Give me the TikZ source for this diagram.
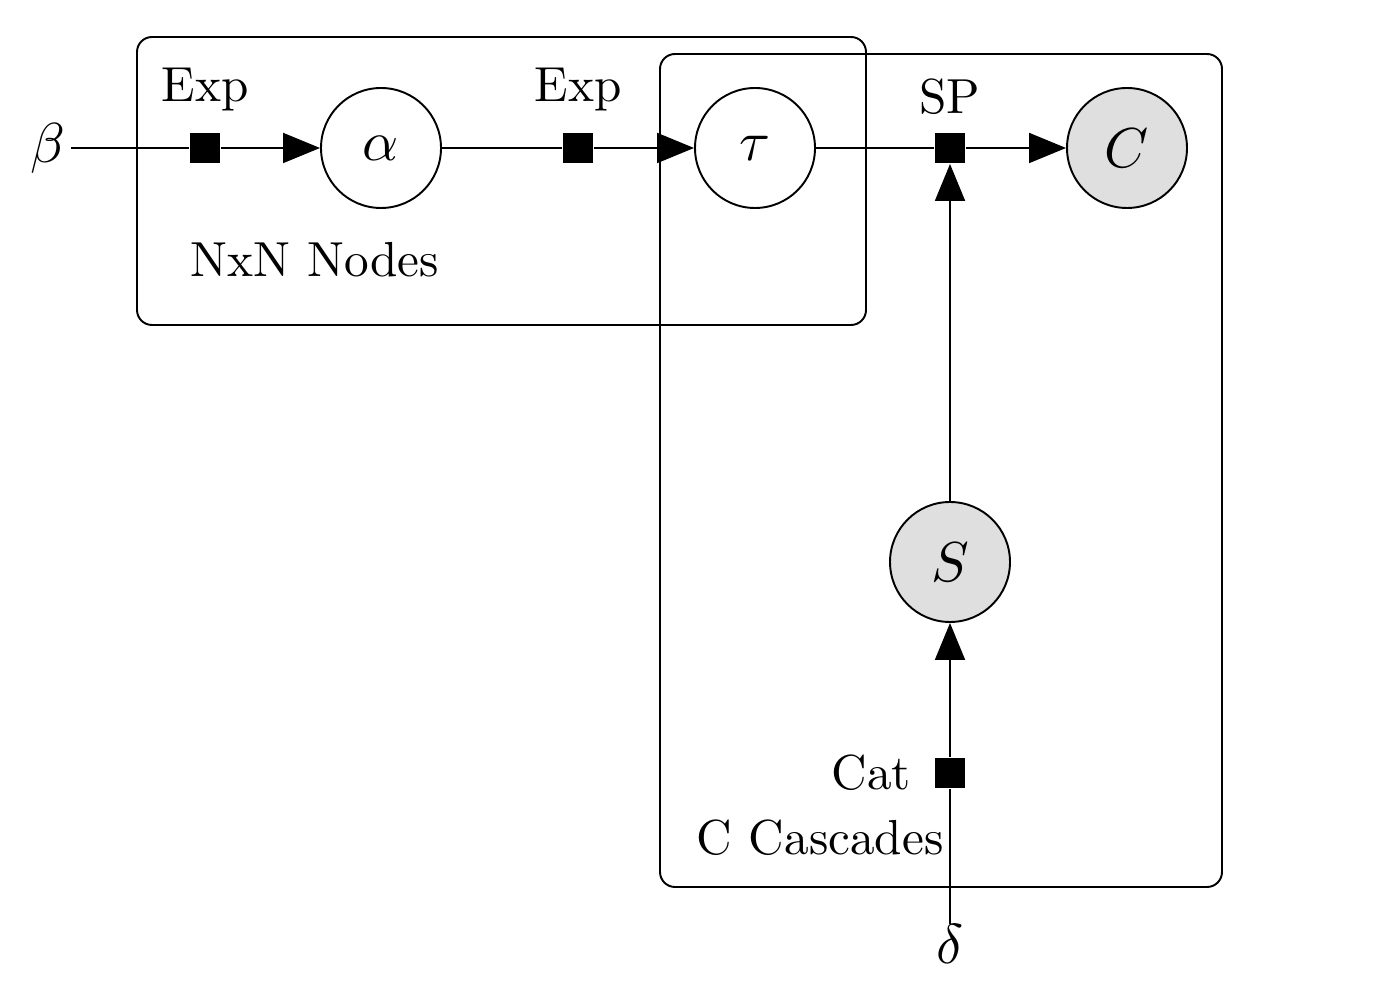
\documentclass[tikz,border=0pt]{standalone}
\usepackage{amsmath}
\usepackage{graphicx}
\usepackage{tikz}
\usetikzlibrary{arrows.meta}

\newcommand{\lbl}[1]{\scalebox{2.8}{#1}}
\newcommand{\mlbl}[1]{\scalebox{3.2}{$#1$}}

\begin{document}
\begin{tikzpicture}[line width=1.1pt,
    latent/.style={circle, draw, minimum size=2.4cm, inner sep=0pt},
    obs/.style={latent, fill=gray!25},
    factor/.style={rectangle, fill=black, minimum size=0.6cm, inner sep=0pt},
    plate/.style={draw, rounded corners=0.3cm},
    tag/.style={inner sep=0pt},
    edge/.style={-{Triangle[length=0.74cm, width=0.6cm]}}]
  \useasboundingbox (0,0) rectangle (28,20);
  % plates
  \draw[plate] (2.74,13.5) rectangle (17.32,19.26);
  \draw[plate] (13.2,2.26) rectangle (24.44,18.92);
  \node[tag, anchor=west] (nodesLbl) at (3.8,14.8) {\lbl{NxN Nodes}};
  \node[tag, anchor=west] (cascLbl) at (13.92,3.24) {\lbl{C Cascades}};
  % variables
  \node[tag, inner sep=0.1cm] (beta) at (0.96,17.04) {\mlbl{\beta}};
  \node[latent] (alpha) at (7.62,17.04) {\mlbl{\alpha}};
  \node[latent] (tau) at (15.1,17.04) {\mlbl{\tau}};
  \node[obs] (C) at (22.54,17.04) {\mlbl{C}};
  \node[obs] (S) at (19.0,8.76) {\mlbl{S}};
  \node[tag] (delta) at (19.0,1.12) {\mlbl{\delta}};
  % factors
  \node[factor] (fAlpha) at (4.1,17.04) {};
  \node[factor] (fTau) at (11.56,17.04) {};
  \node[factor] (fC) at (19.0,17.04) {};
  \node[factor] (fS) at (19.0,4.54) {};
  \node[tag] (fAlphaLbl) at (4.1,18.2) {\lbl{Exp}};
  \node[tag] (fTauLbl) at (11.56,18.2) {\lbl{Exp}};
  \node[tag] (fCLbl) at (19.0,18.06) {\lbl{SP}};
  \node[tag, anchor=east] (fSLbl) at (18.24,4.54) {\lbl{Cat}};
  % edges
  \draw (beta) -- (fAlpha);
  \draw[edge] (fAlpha) -- (alpha);
  \draw (alpha) -- (fTau);
  \draw[edge] (fTau) -- (tau);
  \draw (tau) -- (fC);
  \draw[edge] (fC) -- (C);
  \draw[edge] (S) -- (fC);
  \draw (delta) -- (fS);
  \draw[edge] (fS) -- (S);
\end{tikzpicture}
\end{document}
